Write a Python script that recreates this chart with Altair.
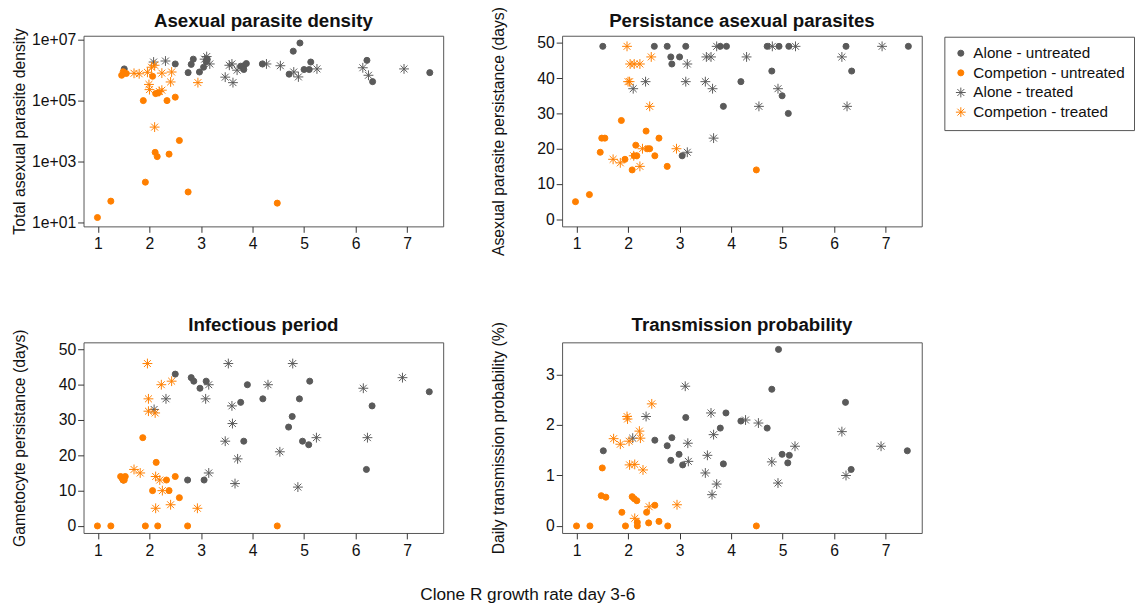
import altair as alt
import pandas as pd

GROUPS = ["Alone - untreated", "Competion - untreated", "Alone - treated", "Competion - treated"]
GRAY = "#5A5A5A"
ORANGE = "#FF7F00"
ASTER = "M-1,0L1,0M0,-1L0,1M-0.7,-0.7L0.7,0.7M-0.7,0.7L0.7,-0.7"

X_TICKS = [1, 2, 3, 4, 5, 6, 7]

# ---- Panel 1: Asexual parasite density (log scale) ----
p1_au_x = [1.51, 2.50, 2.75, 2.81, 2.85, 2.97, 3.05, 3.10, 3.12, 3.77, 3.83, 3.88, 3.83, 4.19, 4.71, 4.79, 4.92, 5.00, 5.10, 5.13, 6.22, 6.33, 7.44]
p1_au_y = [1.1e6, 1.6e6, 8.3e5, 1.55e6, 2.3e6, 8.7e5, 1.25e6, 1.9e6, 2.3e6, 1.35e6, 1.4e6, 1.65e6, 1.05e6, 1.6e6, 7.4e5, 4.2e6, 7.8e6, 1.05e6, 1.05e6, 1.85e6, 2.1e6, 4.2e5, 8.3e5]
p1_cu_x = [0.99, 1.25, 1.46, 1.49, 1.55, 1.88, 1.92, 2.06, 2.11, 2.15, 2.12, 2.17, 2.34, 2.38, 2.50, 2.58, 2.75, 4.48]
p1_cu_y = [14.5, 50, 6.8e5, 8.9e5, 7.8e5, 1.0e5, 210, 6.3e5, 2000, 1450, 1.7e5, 1.8e5, 1.0e5, 1750, 1.3e5, 4900, 100, 43]
p1_at_x = [2.08, 2.31, 3.11, 3.07, 3.17, 3.47, 3.55, 3.60, 3.62, 3.70, 4.27, 4.54, 4.80, 4.89, 5.25, 6.14, 6.25, 6.94]
p1_at_y = [1.85e6, 2.0e6, 2.8e6, 2.3e6, 1.6e6, 5.9e5, 1.45e6, 1.6e6, 3.9e5, 1.0e6, 1.6e6, 1.4e6, 8.7e5, 6.0e5, 1.1e6, 1.2e6, 6.8e5, 1.1e6]
p1_ct_x = [1.70, 1.80, 1.96, 2.04, 2.10, 1.99, 2.00, 2.24, 2.43, 2.41, 2.24, 2.19, 2.10, 2.94]
p1_ct_y = [7.9e5, 7.6e5, 8.5e5, 1.25e6, 1.45e6, 3.4e5, 2.3e5, 8.0e5, 8.7e5, 4.1e5, 2.2e5, 2.0e5, 1.35e4, 3.9e5]

# ---- Panel 2: Persistance asexual parasites (days) ----
p2_au_x = [1.51, 2.51, 2.76, 3.12, 3.79, 3.91, 4.70, 4.93, 5.12, 6.23, 7.44, 2.83, 3.00, 2.85, 4.19, 4.79, 4.99, 5.11, 3.85, 6.34, 3.05]
p2_au_y = [49, 49, 49, 49, 49, 49, 49, 49, 49, 49, 49, 46, 46, 44, 39, 42, 35, 30, 32, 42, 18]
p2_cu_x = [0.98, 1.25, 1.46, 1.49, 1.55, 1.87, 1.94, 2.08, 2.15, 2.17, 2.12, 2.35, 2.38, 2.42, 2.52, 2.60, 2.76, 4.49]
p2_cu_y = [5, 7, 19, 23, 23, 28, 17, 14, 21, 18, 18, 25, 20, 20, 18, 23, 15, 14]
p2_at_x = [3.72, 4.80, 5.25, 6.93, 3.52, 3.61, 4.30, 6.15, 3.15, 2.10, 2.34, 3.12, 3.50, 3.64, 4.54, 4.91, 6.25, 3.66, 3.15]
p2_at_y = [49, 49, 49, 49, 46, 46, 46, 46, 44, 37, 39, 39, 39, 37, 32, 37, 32, 23, 19]
p2_ct_x = [1.98, 2.04, 2.12, 2.23, 2.45, 2.00, 2.03, 2.42, 1.71, 1.85, 2.28, 2.23, 2.11, 2.94]
p2_ct_y = [49, 44, 44, 44, 46, 39, 39, 32, 17, 16, 20, 15, 18, 20]

# ---- Panel 3: Infectious period (days) ----
p3_au_x = [2.50, 2.81, 2.86, 2.98, 3.10, 3.06, 2.74, 1.49, 3.77, 3.90, 3.83, 4.20, 4.70, 4.77, 4.91, 4.97, 5.09, 5.11, 6.21, 6.32, 7.43]
p3_au_y = [43, 42, 41, 39, 41, 13, 13, 13, 35, 40, 24, 36, 28, 31, 36, 24, 23, 41, 16, 34, 38]
p3_cu_x = [0.99, 1.25, 1.92, 2.16, 2.74, 4.48, 1.44, 1.49, 1.53, 1.47, 1.51, 1.87, 2.13, 2.06, 2.33, 2.38, 2.50, 2.58]
p3_cu_y = [0, 0, 0, 0, 0, 0, 14, 13, 14, 13.5, 13, 25, 18, 10, 13, 10, 14, 8]
p3_at_x = [2.09, 2.32, 3.09, 3.15, 3.53, 3.60, 3.61, 3.47, 3.71, 3.66, 4.30, 4.53, 4.78, 4.88, 5.24, 6.15, 6.23, 6.91, 3.15]
p3_at_y = [33, 36, 36, 40, 46, 34, 29, 24, 19, 12, 40, 21, 46, 11, 25, 39, 25, 42, 15]
p3_ct_x = [1.96, 2.23, 2.43, 1.98, 1.98, 2.11, 1.70, 1.82, 2.12, 2.20, 2.25, 2.41, 2.12, 2.93]
p3_ct_y = [46, 40, 41, 36, 32.5, 32, 16, 15, 14, 13, 10, 6, 5, 5]

# ---- Panel 4: Transmission probability (%) ----
p4_au_x = [1.52, 2.52, 2.76, 2.85, 2.83, 2.99, 3.06, 3.12, 3.79, 3.90, 3.85, 4.19, 4.70, 4.79, 4.92, 4.99, 5.10, 5.13, 6.22, 6.33, 7.42]
p4_au_y = [1.49, 1.70, 1.59, 1.75, 1.30, 1.42, 1.21, 2.15, 1.94, 2.24, 1.23, 2.08, 1.94, 2.71, 3.50, 1.42, 1.25, 1.40, 2.45, 1.12, 1.49]
p4_cu_x = [1.00, 1.26, 1.50, 1.48, 1.57, 1.88, 1.95, 2.08, 2.12, 2.17, 2.18, 2.18, 2.36, 2.40, 2.52, 2.60, 2.77, 4.49]
p4_cu_y = [0, 0, 1.15, 0.60, 0.57, 0.27, 0, 0.58, 0.54, 0.50, 0, 0.07, 0.27, 0.06, 0.41, 0.09, 0, 0]
p4_at_x = [3.11, 2.35, 2.09, 3.61, 3.66, 3.16, 3.17, 3.54, 3.50, 3.72, 3.63, 4.28, 4.53, 4.79, 4.91, 5.24, 6.15, 6.23, 6.91]
p4_at_y = [2.77, 2.17, 1.74, 2.24, 1.81, 1.64, 1.28, 1.40, 1.05, 0.83, 0.62, 2.10, 2.04, 1.27, 0.85, 1.58, 1.87, 1.00, 1.58]
p4_ct_x = [2.46, 1.98, 1.99, 1.72, 1.85, 2.02, 2.22, 2.24, 2.03, 2.13, 2.29, 2.13, 2.41, 2.95]
p4_ct_y = [2.42, 2.17, 2.12, 1.73, 1.62, 1.68, 1.88, 1.74, 1.21, 1.22, 1.11, 0.15, 0.38, 0.42]


def build(au_x, au_y, cu_x, cu_y, at_x, at_y, ct_x, ct_y):
    parts = []
    for g, xs, ys in zip(GROUPS, [au_x, cu_x, at_x, ct_x], [au_y, cu_y, at_y, ct_y]):
        parts.append(pd.DataFrame({"x": xs, "y": ys, "group": g}))
    return pd.concat(parts, ignore_index=True)


FONT = "Liberation Sans"
W, H = 366, 194

legend = alt.Legend(
    title=None, orient="none", legendX=876, legendY=1,
    strokeColor="#555555", padding=9, labelFontSize=15.5, labelFont=FONT,
    labelColor="#111111", rowPadding=3, symbolStrokeWidth=1, labelOffset=5,
)

enc_common = dict(
    shape=alt.Shape("group:N", scale=alt.Scale(domain=GROUPS, range=["circle", "circle", ASTER, ASTER]), legend=legend),
    stroke=alt.Stroke("group:N", scale=alt.Scale(domain=GROUPS, range=[GRAY, ORANGE, GRAY, ORANGE]), legend=legend),
    fill=alt.Fill("group:N", scale=alt.Scale(domain=GROUPS, range=[GRAY, ORANGE, "transparent", "transparent"]), legend=legend),
    size=alt.Size("group:N", scale=alt.Scale(type="ordinal", domain=GROUPS, range=[38, 38, 100, 100]), legend=legend),
)


def panel(df, title, title_y, ytitle, yscale, yvalues, ylabelexpr=None):
    yaxis_kw = dict(values=yvalues, title=ytitle, minExtent=50, maxExtent=50, titlePadding=7,
                    labelPadding=2)
    if ylabelexpr is not None:
        yaxis_kw["labelExpr"] = ylabelexpr
    else:
        yaxis_kw["format"] = "d"
    pts = alt.Chart(df).mark_point(strokeWidth=1, opacity=1).encode(
        x=alt.X("x:Q", scale=alt.Scale(domain=[0.72, 7.70], nice=False, zero=False),
                axis=alt.Axis(values=X_TICKS, format="d", title=None, labelPadding=4)),
        y=alt.Y("y:Q", scale=yscale, axis=alt.Axis(**yaxis_kw)),
        **enc_common,
    )
    ttl = alt.Chart(pd.DataFrame({"t": [title]})).mark_text(
        font=FONT, fontSize=19, fontWeight="bold", color="#111111", align="center", baseline="alphabetic"
    ).encode(text="t:N", x=alt.value(W / 2), y=alt.value(title_y))
    return alt.layer(pts, ttl).properties(width=W, height=H)


c1 = panel(build(p1_au_x, p1_au_y, p1_cu_x, p1_cu_y, p1_at_x, p1_at_y, p1_ct_x, p1_ct_y),
           "Asexual parasite density", -9, "Total asexual parasite density",
           alt.Scale(type="log", domain=[7.41, 1.35e7], nice=False),
           [10, 1000, 100000, 10000000], "'1e+0' + round(log(datum.value)/LN10)")
c2 = panel(build(p2_au_x, p2_au_y, p2_cu_x, p2_cu_y, p2_at_x, p2_at_y, p2_ct_x, p2_ct_y),
           "Persistance asexual parasites", -9, "Asexual parasite persistance (days)",
           alt.Scale(domain=[-2, 52], nice=False, zero=False), [0, 10, 20, 30, 40, 50])
c3 = panel(build(p3_au_x, p3_au_y, p3_cu_x, p3_cu_y, p3_at_x, p3_at_y, p3_ct_x, p3_ct_y),
           "Infectious period", -12, "Gametocyte persistance (days)",
           alt.Scale(domain=[-2, 52], nice=False, zero=False), [0, 10, 20, 30, 40, 50])
c4 = panel(build(p4_au_x, p4_au_y, p4_cu_x, p4_cu_y, p4_at_x, p4_at_y, p4_ct_x, p4_ct_y),
           "Transmission probability", -12, "Daily transmission probability (%)",
           alt.Scale(domain=[-0.14, 3.64], nice=False, zero=False), [0, 1, 2, 3])

top = alt.hconcat(c1, c2, spacing=121, bounds="flush")
bottom = alt.hconcat(c3, c4, spacing=121, bounds="flush")

chart = alt.vconcat(top, bottom, spacing=312, bounds="flush").properties(
    title=alt.TitleParams("Clone R growth rate day 3-6", orient="bottom", anchor="middle",
                          fontSize=17.5, fontWeight="normal", font=FONT, offset=28, dx=-46,
                          color="#111111"),
    padding={"left": 11, "top": 0, "right": 0, "bottom": 2},
    background="white",
).configure_view(
    stroke="#555555", strokeWidth=1
).configure_axis(
    domain=False, grid=False, tickColor="#333333", tickSize=6, tickWidth=1,
    labelFontSize=16, labelFont=FONT, labelColor="#111111",
    titleFontSize=16, titleFont=FONT, titleFontWeight="normal", titleColor="#111111",
)

chart.save("out.html", embed_options={"renderer": "svg", "actions": False})
